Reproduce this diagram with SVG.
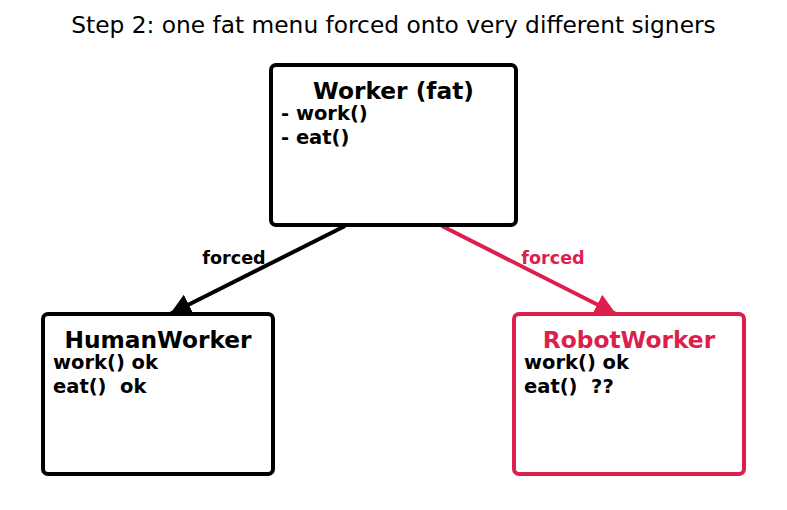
<svg xmlns="http://www.w3.org/2000/svg" width="787" height="510" viewBox="0 0 787 510">
<style>
.box{fill:#fff;stroke-width:4}
.t{font-family:"DejaVu Sans",sans-serif}
.h{font-family:"DejaVu Sans",sans-serif;font-weight:bold;font-size:23.3px;text-anchor:middle}
.b{font-family:"DejaVu Sans",sans-serif;font-weight:bold;font-size:19.5px;fill:#000}
.lbl{font-family:"DejaVu Sans",sans-serif;font-weight:bold;font-size:17.6px;text-anchor:middle}
</style>
<defs>
<marker id="ab" markerUnits="userSpaceOnUse" markerWidth="24" markerHeight="24" viewBox="0 0 24 24" refX="21" refY="12" orient="auto"><path d="M0,1 L21,12 L0,23 Z" fill="#000"/></marker>
<marker id="ar" markerUnits="userSpaceOnUse" markerWidth="24" markerHeight="24" viewBox="0 0 24 24" refX="21" refY="12" orient="auto"><path d="M0,1 L21,12 L0,23 Z" fill="#dc1f4c"/></marker>
</defs>
<rect width="787" height="510" fill="#fff"/>
<text class="t" x="393.5" y="33" font-size="23.3" text-anchor="middle">Step 2: one fat menu forced onto very different signers</text>
<g id="connectors">
<line x1="345" y1="226" x2="170" y2="314" stroke="#000" stroke-width="4" marker-end="url(#ab)"/>
<line x1="442" y1="226" x2="616" y2="314" stroke="#dc1f4c" stroke-width="4" marker-end="url(#ar)"/>
<text class="lbl" x="234" y="264" fill="#000">forced</text>
<text class="lbl" x="553" y="264" fill="#dc1f4c">forced</text>
</g>
<g id="worker">
<rect class="box" x="271" y="65" width="245" height="160" rx="5" stroke="#000"/>
<text class="h" x="393.5" y="99" fill="#000">Worker (fat)</text>
<text class="b" x="281" y="120">- work()</text>
<text class="b" x="281" y="144">- eat()</text>
</g>
<g id="human">
<rect class="box" x="43" y="314" width="230" height="160" rx="5" stroke="#000"/>
<text class="h" x="158" y="348" fill="#000">HumanWorker</text>
<text class="b" x="53" y="369">work() ok</text>
<text class="b" x="53" y="393" xml:space="preserve">eat()  ok</text>
</g>
<g id="robot">
<rect class="box" x="514" y="314" width="230" height="160" rx="5" stroke="#dc1f4c"/>
<text class="h" x="629" y="348" fill="#dc1f4c">RobotWorker</text>
<text class="b" x="524" y="369">work() ok</text>
<text class="b" x="524" y="393" xml:space="preserve">eat()  ??</text>
</g>
</svg>
